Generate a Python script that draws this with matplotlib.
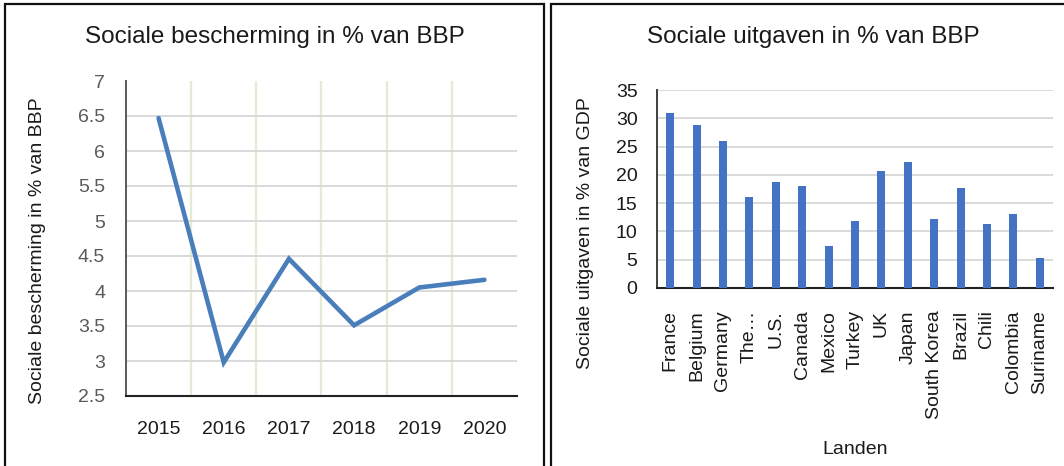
import matplotlib
matplotlib.use("Agg")
import matplotlib.pyplot as plt
from matplotlib.patches import Rectangle

plt.rcParams['font.family'] = ['Liberation Sans', 'DejaVu Sans']

# ---- data ----
years = ['2015', '2016', '2017', '2018', '2019', '2020']
bescherming = [6.47, 2.98, 4.46, 3.51, 4.05, 4.16]

landen = ['France', 'Belgium', 'Germany', 'The…', 'U.S.', 'Canada', 'Mexico',
          'Turkey', 'UK', 'Japan', 'South Korea', 'Brazil', 'Chili',
          'Colombia', 'Suriname']
uitgaven = [31.0, 28.9, 25.9, 16.0, 18.7, 18.0, 7.4, 11.9, 20.6, 22.3,
            12.2, 17.7, 11.4, 13.1, 5.3]

left_yticks = [2.5, 3, 3.5, 4, 4.5, 5, 5.5, 6, 6.5, 7]
left_yticklabels = ['2.5', '3', '3.5', '4', '4.5', '5', '5.5', '6', '6.5', '7']
right_yticks = [0, 5, 10, 15, 20, 25, 30, 35]

W, H = 1064, 466
fig = plt.figure(figsize=(W / 100, H / 100), dpi=100)

def ax_rect(x0, x1, ytop, ybot):
    return [x0 / W, 1 - ybot / H, (x1 - x0) / W, (ybot - ytop) / H]

# panel borders
fig.patches.append(Rectangle((5 / W, -0.1), (544 - 5) / W, 1.1 - 4 / H,
                             transform=fig.transFigure, fill=False,
                             edgecolor='#111111', linewidth=1.6))
fig.patches.append(Rectangle((551 / W, -0.1), (1070 - 551) / W, 1.1 - 4 / H,
                             transform=fig.transFigure, fill=False,
                             edgecolor='#111111', linewidth=1.6))

TEXT = '#1a1a1a'
GRAY = '#595959'
FS = 14

# ---- left chart ----
ax1 = fig.add_axes(ax_rect(126, 517, 81, 396))
x = list(range(len(years)))
ax1.plot(x, bescherming, color='#4a7ebb', linewidth=3.3, solid_capstyle='round',
         solid_joinstyle='miter', zorder=3)
ax1.set_xlim(-0.5, len(years) - 0.5)
ax1.set_ylim(2.5, 7)
ax1.set_xticks(x)
ax1.set_xticklabels(years)
ax1.set_yticks(left_yticks)
ax1.set_yticklabels(left_yticklabels)
ax1.tick_params(axis='x', length=0, pad=18, labelsize=FS, labelcolor=TEXT)
ax1.tick_params(axis='y', length=0, pad=15, labelsize=FS, labelcolor=GRAY)
for i in range(len(years) - 1):
    ax1.axvline(i + 0.5, color='#e3ecd2', linewidth=1.6, zorder=1)
for v in left_yticks[1:-1]:
    ax1.axhline(v, color='#d9d9d9', linewidth=1.4, zorder=1)
for s in ['top', 'right']:
    ax1.spines[s].set_visible(False)
ax1.spines['left'].set_color('#595959')
ax1.spines['left'].set_linewidth(1.4)
ax1.spines['bottom'].set_color('#222222')
ax1.spines['bottom'].set_linewidth(1.5)
fig.text(275 / W, 1 - 37 / H, 'Sociale bescherming in % van BBP', ha='center',
         va='center', fontsize=17.5, color=TEXT)
fig.text(38 / W, 1 - 251 / H, 'Sociale bescherming in % van BBP', ha='center',
         va='center', rotation=90, fontsize=FS, color=TEXT)

# ---- right chart ----
ax2 = fig.add_axes(ax_rect(657, 1053, 90, 288))
xb = list(range(len(landen)))
ax2.bar(xb, uitgaven, width=0.31, color='#4472c4', zorder=3)
ax2.set_xlim(-0.5, len(landen) - 0.5)
ax2.set_ylim(0, 35)
ax2.set_yticks(right_yticks)
ax2.set_xticks(xb)
ax2.set_xticklabels(landen, rotation=90, va='top', ha='center')
ax2.tick_params(axis='x', length=0, pad=16, labelsize=FS, labelcolor=TEXT)
ax2.tick_params(axis='y', length=0, pad=14, labelsize=FS, labelcolor=TEXT)
for v in right_yticks[1:]:
    ax2.axhline(v, color='#d9d9d9', linewidth=1.4, zorder=1)
for s in ['top', 'right']:
    ax2.spines[s].set_visible(False)
ax2.spines['left'].set_color('#404040')
ax2.spines['left'].set_linewidth(1.4)
ax2.spines['bottom'].set_color('#222222')
ax2.spines['bottom'].set_linewidth(1.5)
fig.text(813 / W, 1 - 37 / H, 'Sociale uitgaven in % van BBP', ha='center',
         va='center', fontsize=17.5, color=TEXT)
fig.text(586 / W, 1 - 233 / H, 'Sociale uitgaven in % van GDP', ha='center',
         va='center', rotation=90, fontsize=FS, color=TEXT)
fig.text(855 / W, 1 - 450 / H, 'Landen', ha='center', va='center',
         fontsize=FS, color=TEXT)

fig.savefig('out.png', dpi=100)
